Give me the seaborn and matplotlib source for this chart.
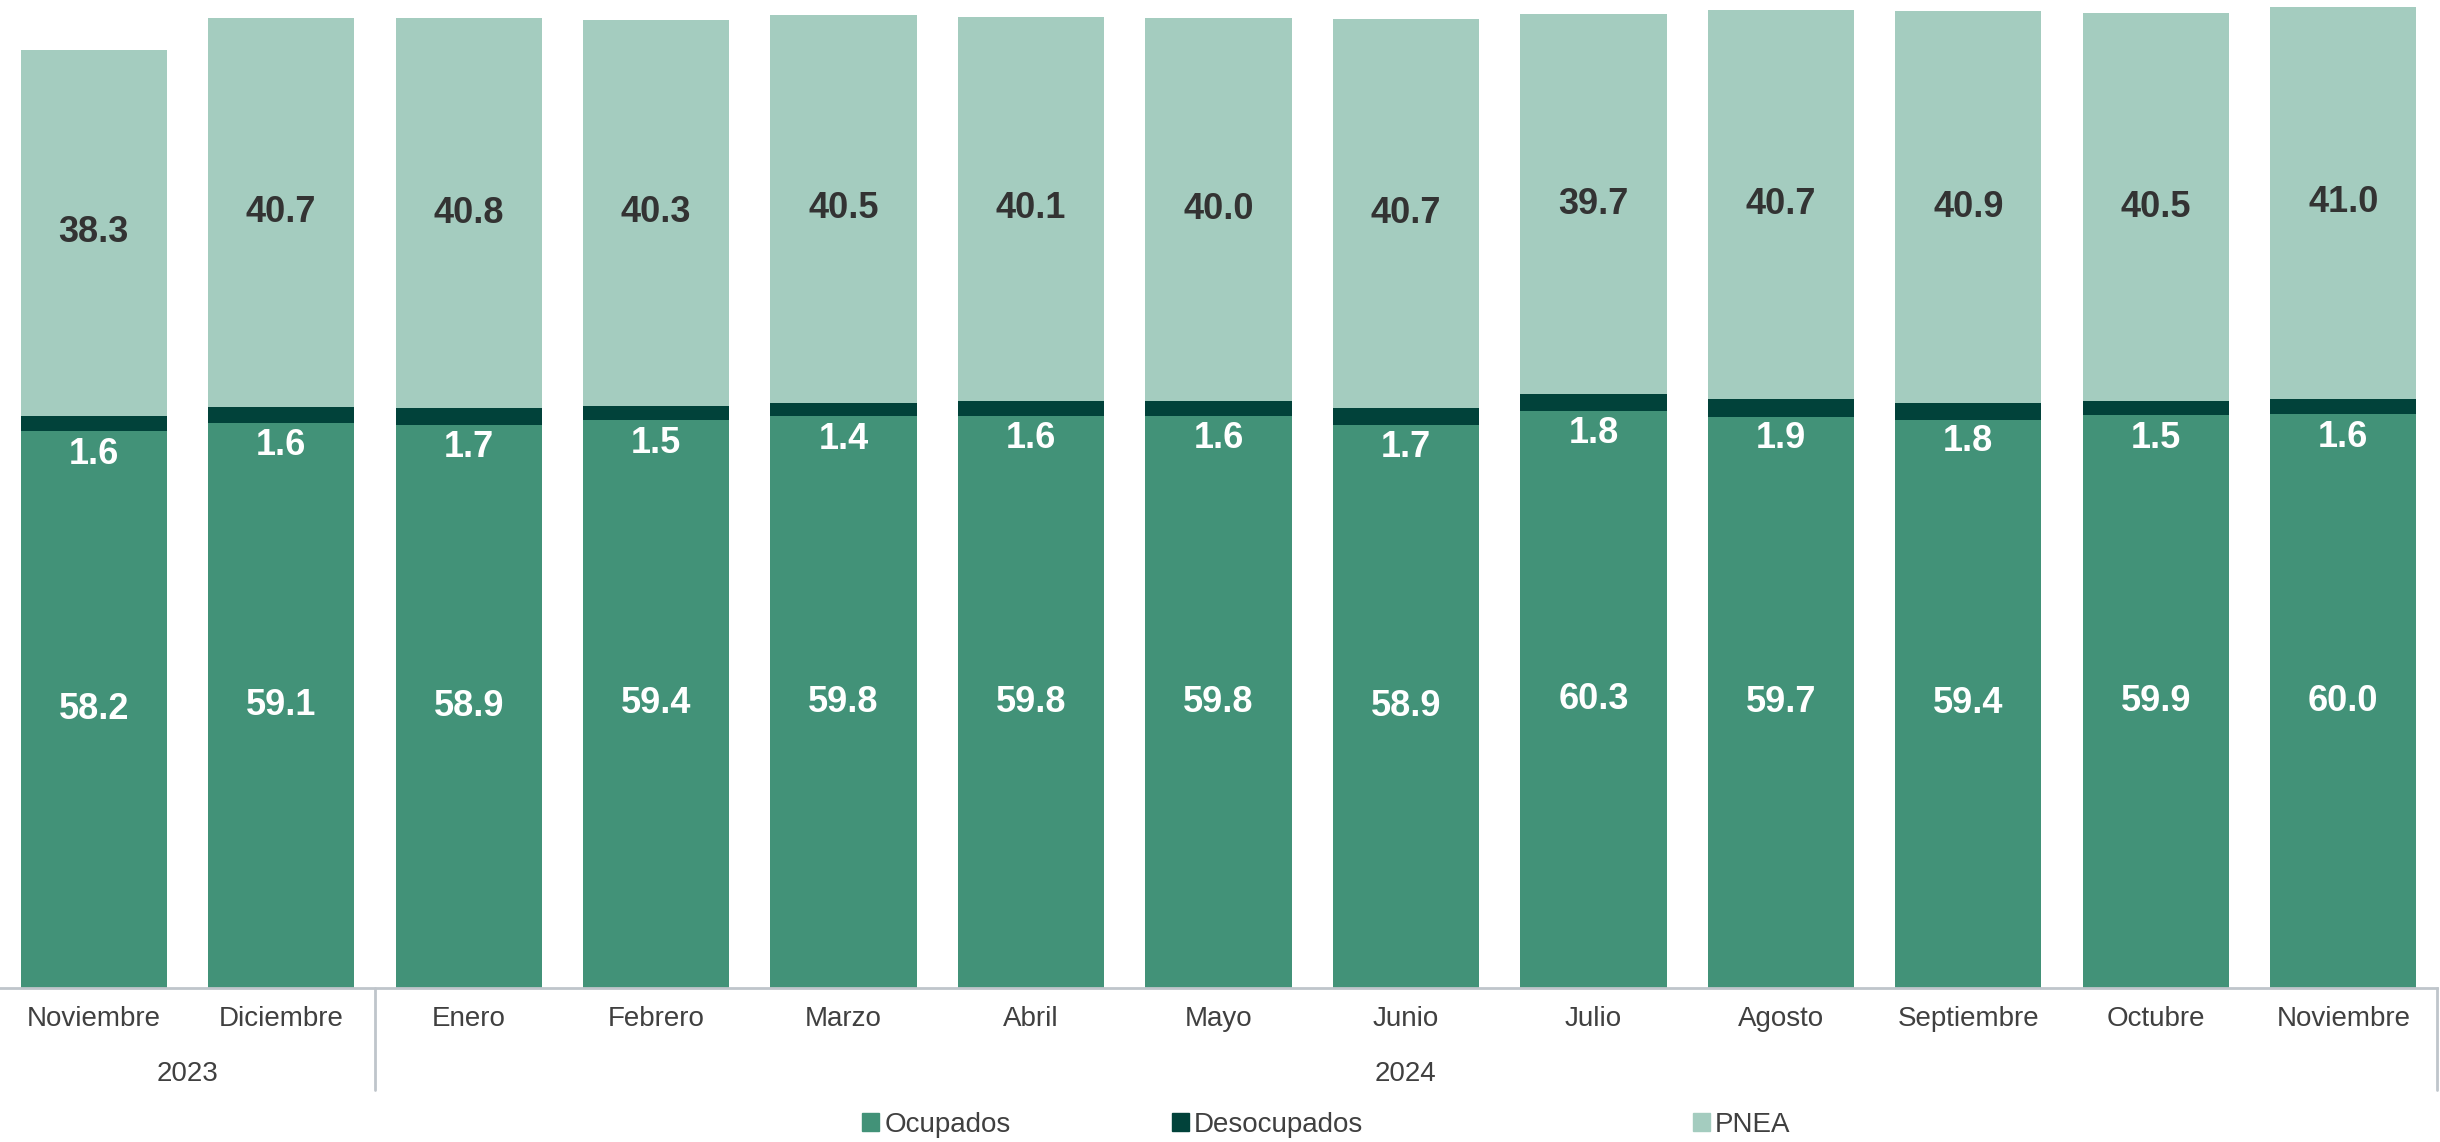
# Stacked bars: Ocupados / Desocupados / PNEA
import pandas as pd
import numpy as np
import matplotlib
matplotlib.use('Agg')
import matplotlib.pyplot as plt
import seaborn as sns
from matplotlib.patches import Patch

meses = ['Noviembre', 'Diciembre', 'Enero', 'Febrero', 'Marzo', 'Abril', 'Mayo',
         'Junio', 'Julio', 'Agosto', 'Septiembre', 'Octubre', 'Noviembre']
keys = [f'{m}_{i}' for i, m in enumerate(meses)]
ocupados = [58.2, 59.1, 58.9, 59.4, 59.8, 59.8, 59.8, 58.9, 60.3, 59.7, 59.4, 59.9, 60.0]
desocupados = [1.6, 1.6, 1.7, 1.5, 1.4, 1.6, 1.6, 1.7, 1.8, 1.9, 1.8, 1.5, 1.6]
pnea = [38.3, 40.7, 40.8, 40.3, 40.5, 40.1, 40.0, 40.7, 39.7, 40.7, 40.9, 40.5, 41.0]
years = [('2023', 0, 1), ('2024', 2, 12)]

c_ocu = '#429278'
c_des = '#01423A'
c_pnea = '#A4CCBF'
c_text = '#404040'
c_line = '#BFC5CB'

sns.set_style('white')
plt.rcParams['font.family'] = ['Liberation Sans', 'DejaVu Sans']

df = pd.DataFrame({'mes': keys, 'ocu': ocupados, 'des': desocupados, 'pnea': pnea})
df['ocu_des'] = df['ocu'] + df['des']
df['total'] = df['ocu_des'] + df['pnea']

fig = plt.figure(figsize=(24.4, 11.42), dpi=100)
ax = fig.add_axes([0, 1 - 988 / 1142, 2437 / 2440, 988 / 1142])

for col, color in [('total', c_pnea), ('ocu_des', c_des), ('ocu', c_ocu)]:
    sns.barplot(data=df, x='mes', y=col, order=keys, color=color, width=0.78,
                saturation=1, linewidth=0, ax=ax)

ax.set_xlim(-0.5, 12.5)
ax.set_ylim(0, 103.3)
ax.set_xlabel('')
ax.set_ylabel('')
ax.set_yticks([])
ax.set_xticks(range(len(meses)))
ax.set_xticklabels(meses, fontsize=20, color=c_text)
ax.tick_params(axis='x', length=0, pad=13)
for s in ['top', 'left', 'right']:
    ax.spines[s].set_visible(False)
ax.spines['bottom'].set_color(c_line)
ax.spines['bottom'].set_linewidth(2)

# value labels
for i in range(len(keys)):
    o, d, p = ocupados[i], desocupados[i], pnea[i]
    ax.text(i, o / 2, f'{o:.1f}', ha='center', va='center', color='white',
            fontsize=26, fontweight='bold')
    ax.annotate(f'{d:.1f}', (i, o + d / 2), xytext=(0, -22), textcoords='offset points',
                ha='center', va='center', color='white', fontsize=26, fontweight='bold')
    ax.text(i, o + d + p / 2, f'{p:.1f}', ha='center', va='center', color='#333333',
            fontsize=26, fontweight='bold')

# year grouping
tr = ax.get_xaxis_transform()
for label, a, b in years:
    ax.text((a + b) / 2, -0.087, label, transform=tr, ha='center', va='center',
            fontsize=20, color=c_text)
for xs in [1.5, 12.5]:
    ax.plot([xs, xs], [0, -0.103], transform=tr, color=c_line, lw=2, clip_on=False)

# legend entries
entries = [('Ocupados', c_ocu, 862), ('Desocupados', c_des, 1172), ('PNEA', c_pnea, 1693)]
for name, color, px in entries:
    fig.legend(handles=[Patch(color=color, label=name)], loc='center left',
               bbox_to_anchor=(px / 2440, 1 - 1125 / 1142), frameon=False,
               fontsize=20, handlelength=0.6, handleheight=0.6, handletextpad=0.2,
               borderpad=0, borderaxespad=0, labelcolor=c_text)

fig.savefig('out.png', dpi=100)
